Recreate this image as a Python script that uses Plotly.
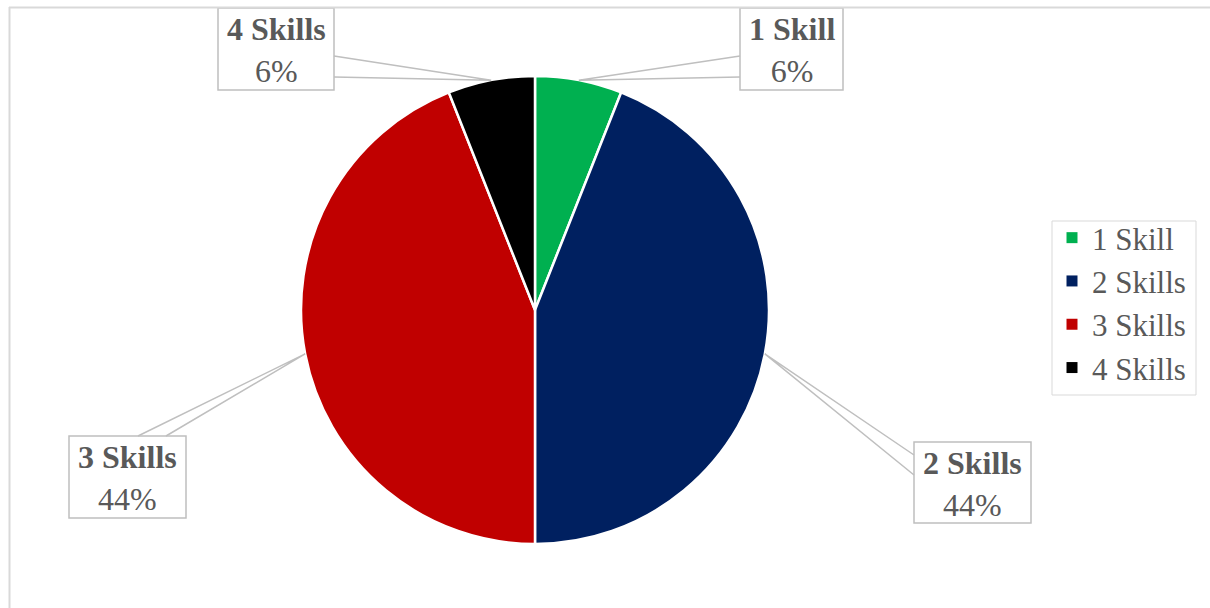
import math
import plotly.graph_objects as go

# ---- data ----
categories = ["1 Skill", "2 Skills", "3 Skills", "4 Skills"]
percent_values = [6, 44, 44, 6]
slice_colors = ["#00B050", "#002060", "#C00000", "#000000"]

W, H = 1210, 608
CX, CY, R = 535, 310, 234  # pie centre / radius in pixels
SERIF = "Liberation Serif, Times New Roman, Times, serif"


def px(x):
    return x / W


def py(y):
    return 1 - y / H


fig = go.Figure()
fig.add_trace(go.Pie(
    labels=categories,
    values=percent_values,
    sort=False,
    direction="clockwise",
    rotation=0,
    marker=dict(colors=slice_colors, line=dict(color="white", width=2.5)),
    textinfo="none",
    hoverinfo="label+percent",
    domain=dict(x=[px(CX - R), px(CX + R)], y=[py(CY + R), py(CY - R)]),
    showlegend=False,
))

# legend entries (one group each so that spacing can be set)
for cat, col in zip(categories, slice_colors):
    fig.add_trace(go.Scatter(
        x=[None], y=[None], mode="markers", name=cat, legendgroup=cat,
        marker=dict(symbol="square", size=11, color=col),
        hoverinfo="skip",
    ))

# label boxes: (x0, y0, x1, y1) pixel box and the two tail attachment points
boxes = [
    dict(box=(740, 8, 843, 90), tail=((740, 56), (740, 77))),
    dict(box=(914, 442, 1031, 523), tail=((914, 455), (914, 475))),
    dict(box=(69, 436, 186, 518), tail=((138, 436), (166, 436))),
    dict(box=(218, 8, 334, 90), tail=((334, 56), (334, 77))),
]

total = sum(percent_values)
cum = 0
shapes = []
annotations = []
for cat, val, b in zip(categories, percent_values, boxes):
    mid = (cum + val / 2) / total * 2 * math.pi
    cum += val
    tipx = CX + R * math.sin(mid)
    tipy = CY - R * math.cos(mid)
    x0, y0, x1, y1 = b["box"]
    (ax, ay), (bx, by) = b["tail"]
    shapes.append(dict(type="rect", xref="paper", yref="paper",
                       x0=px(x0), x1=px(x1), y0=py(y1), y1=py(y0),
                       line=dict(color="#BFBFBF", width=1.5), fillcolor="white", layer="above"))
    shapes.append(dict(type="path", xref="paper", yref="paper",
                       path=f"M {px(ax)},{py(ay)} L {px(tipx)},{py(tipy)} L {px(bx)},{py(by)}",
                       line=dict(color="#BFBFBF", width=1.5), layer="above"))
    pct = round(val / total * 100)
    annotations.append(dict(
        xref="paper", yref="paper", x=px((x0 + x1) / 2), y=py((y0 + y1) / 2 + 1),
        xanchor="center", yanchor="middle", showarrow=False, align="center",
        text=f"<b>{cat}</b><br>{pct}%",
        font=dict(family=SERIF, size=32, color="#595959"),
    ))

# legend frame
shapes.append(dict(type="rect", xref="paper", yref="paper",
                   x0=px(1052), x1=px(1196), y0=py(395), y1=py(221),
                   line=dict(color="#D9D9D9", width=1)))

# chart frame (top and left edges)
shapes.append(dict(type="line", xref="paper", yref="paper",
                   x0=px(9), x1=px(1212), y0=py(7.5), y1=py(7.5),
                   line=dict(color="#D9D9D9", width=2)))
shapes.append(dict(type="line", xref="paper", yref="paper",
                   x0=px(9.5), x1=px(9.5), y0=py(7), y1=py(610),
                   line=dict(color="#D9D9D9", width=2)))

fig.update_layout(
    width=W, height=H,
    margin=dict(l=0, r=0, t=0, b=0),
    paper_bgcolor="white",
    plot_bgcolor="white",
    xaxis=dict(visible=False),
    yaxis=dict(visible=False),
    shapes=shapes,
    annotations=annotations,
    showlegend=True,
    legend=dict(
        x=px(1052), y=py(211), xanchor="left", yanchor="top",
        bgcolor="rgba(0,0,0,0)", borderwidth=0,
        font=dict(family=SERIF, size=31, color="#595959"),
        itemwidth=30,
        tracegroupgap=0,
    ),
)

fig.write_html("out.html", config={"displayModeBar": False},
               post_script="document.body.style.margin='0';")
